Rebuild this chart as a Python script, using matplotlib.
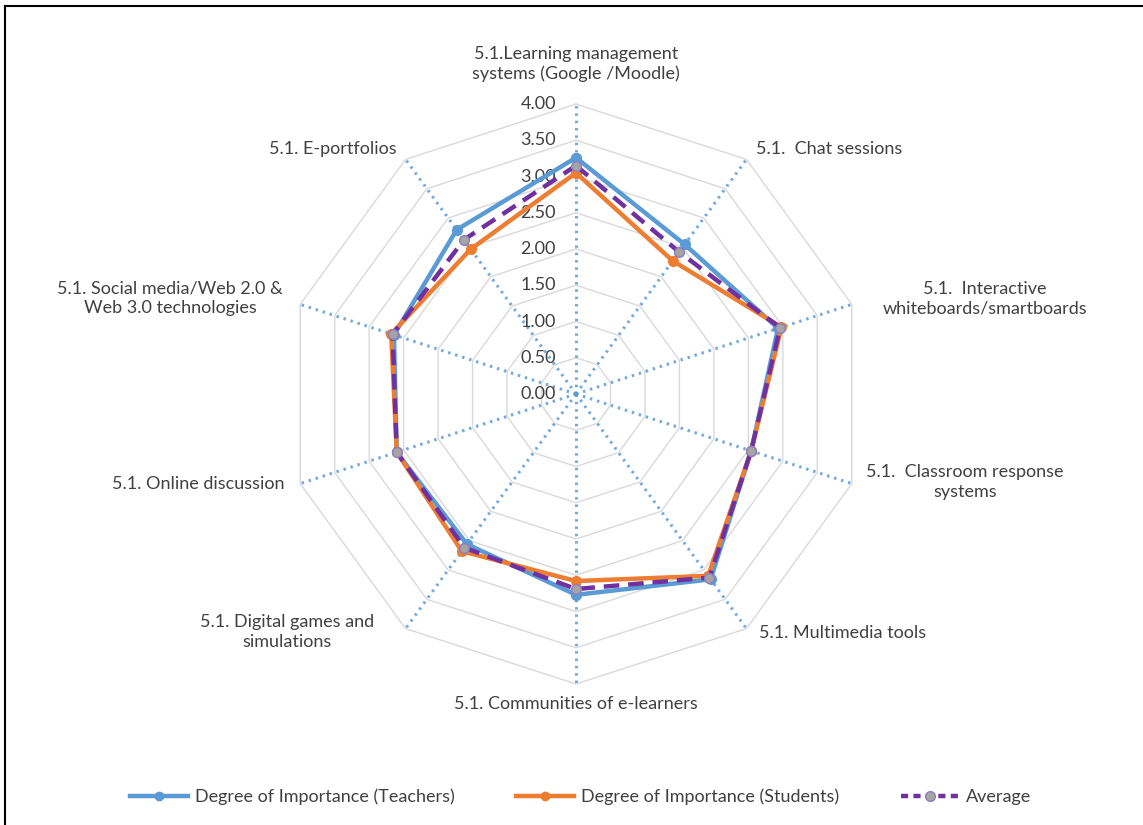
import numpy as np
import matplotlib.pyplot as plt
from matplotlib.lines import Line2D

plt.rcParams['font.family'] = ['Lato', 'DejaVu Sans']

categories = [
    "5.1.Learning management\nsystems (Google /Moodle)",
    "5.1.  Chat sessions",
    "5.1.  Interactive\nwhiteboards/smartboards",
    "5.1.  Classroom response\nsystems",
    "5.1. Multimedia tools",
    "5.1. Communities of e-learners",
    "5.1. Digital games and\nsimulations",
    "5.1. Online discussion",
    "5.1. Social media/Web 2.0 &\nWeb 3.0 technologies",
    "5.1. E-portfolios",
]
teachers = [3.26, 2.55, 2.93, 2.54, 3.16, 2.77, 2.56, 2.60, 2.64, 2.80]
students = [3.05, 2.27, 2.98, 2.54, 3.10, 2.58, 2.68, 2.60, 2.68, 2.47]
average = [3.15, 2.42, 2.96, 2.54, 3.13, 2.69, 2.62, 2.60, 2.66, 2.63]
ring_values = [0.0, 0.5, 1.0, 1.5, 2.0, 2.5, 3.0, 3.5, 4.0]
ring_labels = ["0.00", "0.50", "1.00", "1.50", "2.00", "2.50", "3.00", "3.50", "4.00"]

BLUE = "#5B9BD5"
ORANGE = "#ED7D31"
PURPLE = "#7030A0"
GRAY = "#A5A5A5"
TXT = "#404040"
FS = 13

W, H = 1143, 825
cx, cy = 576, 394      # centre in pixels
unit = 72.5            # pixels per 1.0

n = len(categories)
ang = np.arange(n) * 2 * np.pi / n


def xy(vals):
    v = np.asarray(vals, dtype=float)
    x = v * np.sin(ang)
    y = v * np.cos(ang)
    return np.append(x, x[0]), np.append(y, y[0])


fig = plt.figure(figsize=(W / 100, H / 100), dpi=100)
ax = fig.add_axes([0, 0, 1, 1])
ax.set_xlim(-cx / unit, (W - cx) / unit)
ax.set_ylim(-(H - cy) / unit, cy / unit)
ax.axis('off')

# polygon grid
for r in ring_values[1:]:
    gx, gy = xy([r] * n)
    ax.plot(gx, gy, color="#D9D9D9", lw=1.0, zorder=1)

# spokes
for a in ang:
    ax.plot([0, 4 * np.sin(a)], [0, 4 * np.cos(a)], color=BLUE, lw=2.2,
            linestyle=(0, (0.8, 1.6)), alpha=0.85, zorder=2)

# ring labels
for r, lab in zip(ring_values, ring_labels):
    ax.text(-20 / unit, r, lab, ha='right', va='center', fontsize=FS, color=TXT)

# series
tx, ty = xy(teachers)
ax.plot(tx, ty, color=BLUE, lw=3.2, marker='o', ms=7, zorder=4)
sx, sy = xy(students)
ax.plot(sx, sy, color=ORANGE, lw=3.2, marker='o', ms=7, zorder=5)
avx, avy = xy(average)
ax.plot(avx, avy, color=PURPLE, lw=3.2, dashes=(3.5, 2), zorder=6)
ax.plot(avx[:-1], avy[:-1], ls='none', marker='o', ms=7, mfc=GRAY,
        mec="#8E7CC3", mew=1, zorder=7)

# category labels (pixel positions of label centres)
label_pos = [(576, 64), (829, 149), (985, 299), (965, 482), (843, 633),
             (576, 704), (287, 632), (198, 484), (170, 298), (333, 149)]
for lab, (px, py) in zip(categories, label_pos):
    ax.text((px - cx) / unit, (cy - py) / unit, lab, ha='center', va='center',
            fontsize=FS, color=TXT, linespacing=1.3)

# legend
handles = [
    Line2D([], [], color=BLUE, lw=3.2, marker='o', ms=6),
    Line2D([], [], color=ORANGE, lw=3.2, marker='o', ms=6),
    Line2D([], [], color=PURPLE, lw=3.2, dashes=(1.6, 1.2), marker='o', ms=7,
           mfc=GRAY, mec="#8E7CC3"),
]
names = ["Degree of Importance (Teachers)", "Degree of Importance (Students)", "Average"]
fig.legend(handles, names, loc='center', bbox_to_anchor=(0.508, 1 - 797 / H),
           ncol=3, frameon=False, fontsize=FS, handlelength=3.2,
           columnspacing=3.4, handletextpad=0.4, labelcolor=TXT)

# frame lines (top and left)
fig.add_artist(Line2D([5 / W, 5 / W], [0, 1 - 6 / H], color='black', lw=1.5,
                      transform=fig.transFigure))
fig.add_artist(Line2D([5 / W, 1], [1 - 6 / H, 1 - 6 / H], color='black', lw=1.5,
                      transform=fig.transFigure))

fig.savefig("out.png", dpi=100)
